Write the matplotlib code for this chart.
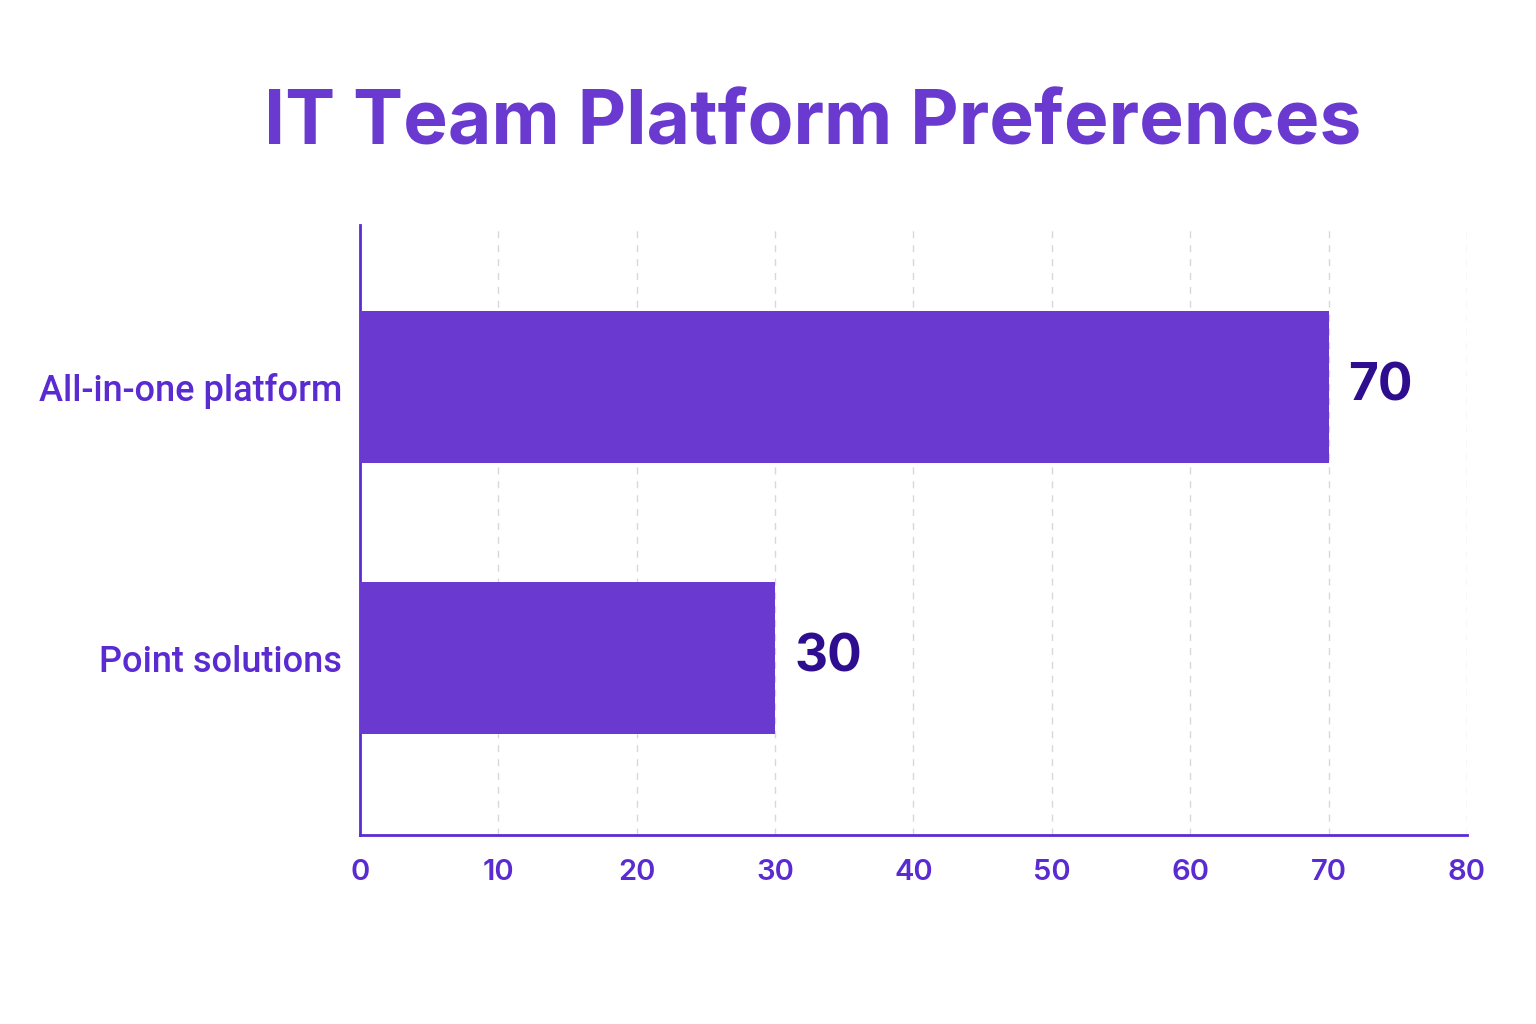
import matplotlib
matplotlib.use('Agg')
import matplotlib.pyplot as plt

categories = ['Point solutions', 'All-in-one platform']
values = [30, 70]
xticks = [0, 10, 20, 30, 40, 50, 60, 70, 80]

plt.rcParams['font.family'] = ['Inter', 'DejaVu Sans']

bar_color = '#6a3ad0'
axis_color = '#5b2bd6'
label_color = '#5a2bd0'
value_color = '#2e0e8f'

fig = plt.figure(figsize=(15.36, 10.24), dpi=100)
ax = fig.add_axes([0.2344, 0.1846, 0.7206, 0.5954])

pos = list(range(len(categories)))
ax.barh(pos, values, height=0.56, color=bar_color, zorder=3)
for p, v in zip(pos, values):
    ax.text(v + 1.4, p, str(v), va='center', ha='left', fontsize=37,
            fontweight='bold', color=value_color)

ax.set_xlim(0, 80)
ax.set_ylim(-0.653, 1.598)
ax.set_xticks(xticks)
ax.set_xticklabels([str(t) for t in xticks])
ax.set_yticks(pos)
ax.set_yticklabels(categories)
ax.tick_params(axis='x', length=0, pad=17, labelsize=21, labelcolor=label_color)
ax.tick_params(axis='y', length=0, pad=13, labelsize=26, labelcolor=label_color)
for lab in ax.get_xticklabels():
    lab.set_fontweight('semibold')
for lab in ax.get_yticklabels():
    lab.set_family(['Roboto', 'DejaVu Sans'])
    lab.set_fontweight('medium')

ax.grid(axis='x', color='#d8d8d8', linestyle=(0, (5, 5)), linewidth=1, zorder=0)
ax.spines['top'].set_visible(False)
ax.spines['right'].set_visible(False)
ax.spines['left'].set_color(axis_color)
ax.spines['bottom'].set_color(axis_color)
ax.spines['left'].set_linewidth(2)
ax.spines['bottom'].set_linewidth(2)

fig.text(0.529, 0.878, 'IT Team Platform Preferences', ha='center', va='center',
         fontsize=54, fontweight='bold', color='#6a3ad0')

fig.savefig('out.png', dpi=100, facecolor='white')
